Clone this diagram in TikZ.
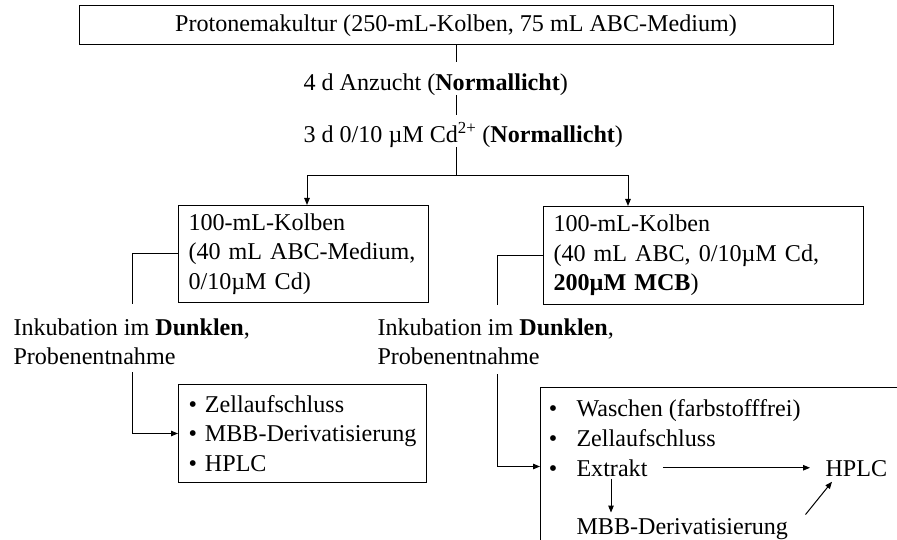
\documentclass[tikz,border=0pt]{standalone}
\usepackage{fontspec}
\setmainfont{Liberation Serif}
\usetikzlibrary{arrows.meta,calc}
\begin{document}
\begin{tikzpicture}[x=1pt,y=-1pt, line width=1pt,
  every node/.style={font=\fontsize{24.1}{29.5}\selectfont, inner sep=0pt},
  box/.style={draw, line width=1pt, inner xsep=10pt, inner ysep=0pt, align=left},
  arr/.style={-{Triangle[length=7pt,width=5.5pt]}}]
\useasboundingbox (0,0) rectangle (897,540);
\clip (0,0) rectangle (897,540);

\node[draw, minimum width=754pt, minimum height=39pt] (top) at (456,25.5)
  {Protonemakultur (250-mL-Kolben, 75 mL ABC-Medium)};
\node[anchor=base west] (t1) at (303,91) {4 d Anzucht (\textbf{Normallicht})};
\node[anchor=base west] (t2) at (303,143) {3 d 0/10 µM Cd\textsuperscript{2+} (\textbf{Normallicht})};

\coordinate (a1) at (456,62);
\coordinate (a2) at (456,95);
\coordinate (a3) at (456,115);
\coordinate (a4) at (456,147);
\coordinate (split) at (456,176);
\coordinate (lin) at (307,205);
\coordinate (rin) at (628,206);
\draw (top.south) -- (a1);
\draw (a2) -- (a3);
\draw (a4) -- (split);
\draw[arr] (split) -| (lin);
\draw[arr] (split) -| (rin);

\node[box, text width=230pt, minimum height=97pt, anchor=north west] (lb) at (178,205)
  {100-mL-Kolben\\(40 mL ABC-Medium,\\0/10µM Cd)};
\node[box, text width=300pt, minimum height=98pt, anchor=north west] (rb) at (543,206)
  {100-mL-Kolben\\(40 mL ABC, 0/10µM Cd,\\\textbf{200µM MCB})};

\node[anchor=north west, align=left] (il) at (13,318) {Inkubation im \textbf{Dunklen},\\Probenentnahme};
\node[anchor=north west, align=left] (ir) at (377,318) {Inkubation im \textbf{Dunklen},\\Probenentnahme};

\node[box, text width=228pt, minimum height=98pt, anchor=north west] (blb) at (178,384)
  {• Zellaufschluss\\• MBB-Derivatisierung\\• HPLC};
\node[draw, minimum width=380pt, minimum height=158pt, anchor=north west] (brb) at (540,387) {};

\coordinate (l1) at (132,304);
\coordinate (l2) at (132,372);
\coordinate (r1) at (497,305);
\coordinate (r2) at (497,374);
\draw (lb.west) -| (l1);
\draw[arr] (l2) |- (blb.west);
\draw (rb.west) -| (r1);
\draw[arr] (r2) |- (brb.west);

\node[anchor=base] (b1) at (553,416) {•};
\node[anchor=base] (b2) at (553,446) {•};
\node[anchor=base] (b3) at (553,476) {•};
\node[anchor=base west] (w) at (576,416) {Waschen (farbstofffrei)};
\node[anchor=base west] (z) at (576,446) {Zellaufschluss};
\node[anchor=base west] (ex) at (576,476) {Extrakt};
\node[anchor=base west] (hplc) at (825,476) {HPLC};
\node[anchor=base west] (mbb) at (576,534) {MBB-Derivatisierung};

\draw[arr, shorten <=15pt, shorten >=15pt] (ex.east) -- (ex.east -| hplc.west);
\draw[arr] ($(ex.south west)+(35,2)$) -- ($(mbb.north west)+(35,-5)$);
\draw[arr] ($(mbb.north east)+(17,-3)$) -- ($(hplc.south west)+(7,5)$);
\end{tikzpicture}
\end{document}
